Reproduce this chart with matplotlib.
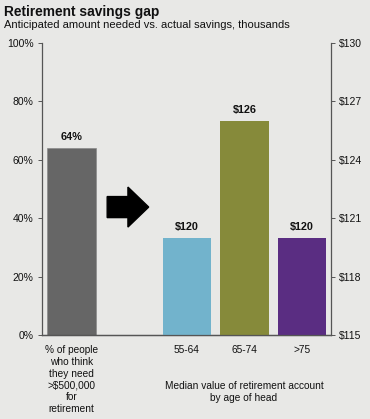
import matplotlib.pyplot as plt
from matplotlib.patches import FancyArrow

plt.rcParams['font.family'] = ['Liberation Sans', 'DejaVu Sans']

# data
need_label = '% of people\nwho think\nthey need\n>$500,000\nfor\nretirement'
need_pct = 64
age_groups = ['55-64', '65-74', '>75']
median_savings = [120, 126, 120]
savings_labels = ['$120', '$126', '$120']
pct_ticks = [0, 20, 40, 60, 80, 100]
dollar_ticks = [115, 118, 121, 124, 127, 130]

bg = '#e8e8e6'
axis_col = '#555555'
txt = '#111111'
bar_colors = ['#72b3cc', '#868a3a', '#5a2d82']

fig = plt.figure(figsize=(3.7, 4.19), dpi=100, facecolor=bg)
ax = fig.add_axes([0.1135, 0.2005, 0.781, 0.697])
ax.set_facecolor(bg)
ax2 = ax.twinx()

# left axis: percent bar
ax.bar([0], [need_pct], width=0.84, color='#666666', edgecolor='#8a8a8a', linewidth=0.5)
ax.text(0, need_pct + 2.0, f'{need_pct}%', ha='center', va='bottom',
        fontsize=7.8, fontweight='bold', color=txt)
ax.set_ylim(0, 100)
ax.set_yticks(pct_ticks)
ax.set_yticklabels([f'{t}%' for t in pct_ticks])

# right axis: dollar bars
xs = [2, 3, 4]
ax2.bar(xs, median_savings, width=0.84, color=bar_colors, bottom=0)
for x, v, lab in zip(xs, median_savings, savings_labels):
    ax2.text(x, v + 0.3, lab, ha='center', va='bottom',
             fontsize=7.8, fontweight='bold', color=txt)
ax2.set_ylim(115, 130)
ax2.set_yticks(dollar_ticks)
ax2.set_yticklabels([f'${t}' for t in dollar_ticks])

ax.set_xlim(-0.51, 4.5)
ax.set_xticks([])
# category labels under the bars
ax.text(0, -3.5, need_label, ha='center', va='top', multialignment='center',
        fontsize=7.3, linespacing=1.22, color=txt)
for x, lab in zip(xs, age_groups):
    ax.text(x, -3.5, lab, ha='center', va='top', fontsize=7.3, color=txt)

for a in (ax, ax2):
    a.spines['top'].set_visible(False)
    for s in ('left', 'right', 'bottom'):
        a.spines[s].set_color(axis_col)
        a.spines[s].set_linewidth(0.9)
    a.tick_params(axis='y', labelsize=7.5, labelcolor=txt, color=axis_col,
                  length=3, width=0.7, pad=3)
ax.spines['right'].set_visible(False)
ax2.spines['left'].set_visible(False)

# arrow
ax.add_patch(FancyArrow(0.62, 43.8, 0.72, 0, width=7.2, head_width=13.7,
                        head_length=0.36, length_includes_head=True,
                        color='black', clip_on=False))

fig.text(244 / 370, 1 - 392 / 419, 'Median value of retirement account\nby age of head',
         ha='center', va='center', fontsize=7.3, linespacing=1.35, color=txt)

fig.text(4 / 370, 1 - 12 / 419, 'Retirement savings gap', fontsize=9.9,
         fontweight='bold', va='center', ha='left', color=txt)
fig.text(4 / 370, 1 - 25 / 419, 'Anticipated amount needed vs. actual savings, thousands',
         fontsize=8, va='center', ha='left', color=txt)

fig.savefig('out.png', dpi=100, facecolor=bg)
